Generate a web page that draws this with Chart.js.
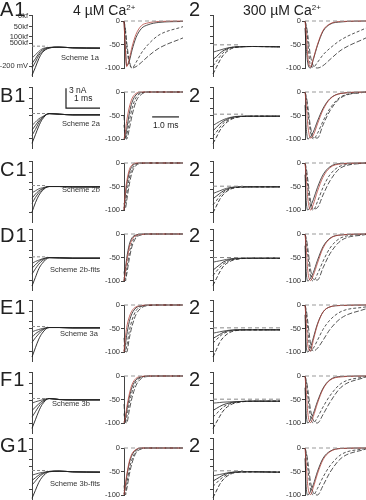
<!DOCTYPE html>
<html>
<head>
<meta charset="utf-8">
<script src="https://cdn.jsdelivr.net/npm/chart.js@4.4.1/dist/chart.umd.min.js"></script>
<style>
  body { margin: 0; background: #fff; }
  #fig { position: relative; width: 366px; height: 500px; overflow: hidden; font-family: "Liberation Sans", Arial, sans-serif; color: #222; }
  #fig canvas { position: absolute; }
  .txt { position: absolute; white-space: nowrap; line-height: 1; }
  .sup { font-size: 8px; position: relative; top: -5px; }
</style>
</head>
<body>
<div id="fig"></div>
<script>
// ---- data ----
const rowLetters = ["A", "B", "C", "D", "E", "F", "G"];
const schemes = ["Scheme 1a", "Scheme 2a", "Scheme 2b", "Scheme 2b-fits", "Scheme 3a", "Scheme 3b", "Scheme 3b-fits"];

// time (ms) of the current panels and of the normalized panels
const stepTime = [0, 0.1, 0.2, 0.3, 0.5, 0.8, 1.2, 2.0];
const normTime = [0, 0.05, 0.1, 0.2, 0.3, 0.45, 0.65, 0.9, 1.3, 2.2];

const normTicks = [0, -50, -100];
const stepTicks = [-0.15, -1.8, -3.3, -4.25, -7.7];
const stepTickLabels = ["0kf", "50kf", "100kf", "500kf", "-200 mV"];

// scale bars: 3 nA / 1 ms and 1.0 ms
const barTime = [1.0, 1.0, 2.0];
const barCurrent = [-0.2, -3.2, -3.2];
const normBarTime = [1.05, 2.05];
const normBarLevel = [-53, -53];

const zeroTime = [0, 2.2];
const zeroLevel = [0, 0];

// dashed reference level in the current panels (nA) and how far it runs (ms)
const ref1Level = [-4.7, -4.0, -3.7, -4.2, -4.0, -4.0, -4.9];
const ref1End = [0.45, 0.45, 0.4, 0.45, 0.45, 0.45, 0.45];
const ref2Level = [-4.5, -4.1, -3.8, -4.3, -4.2, -4.1, -4.95];
const ref2End = [0.8, 0.9, 0.9, 2.0, 2.0, 2.0, 0.9];

// currents (nA), 4 µM Ca2+
const a1Current = [
  [-9.1, -7.9, -6.6, -5.7, -5.0, -4.85, -4.95, -5.0],
  [-8.0, -7.1, -6.1, -5.5, -4.95, -4.85, -4.95, -5.0],
  [-7.3, -6.6, -5.8, -5.3, -4.9, -4.85, -4.95, -5.0],
  [-6.5, -6.0, -5.5, -5.1, -4.9, -4.85, -4.95, -5.0]
];
const b1Current = [
  [-8.5, -7.2, -5.9, -4.9, -4.0, -4.1, -4.2, -4.2],
  [-7.3, -6.4, -5.4, -4.7, -4.0, -4.1, -4.2, -4.2],
  [-6.5, -5.8, -5.1, -4.6, -4.0, -4.1, -4.2, -4.2],
  [-5.8, -5.3, -4.8, -4.5, -4.05, -4.1, -4.2, -4.2]
];
const c1Current = [
  [-7.7, -6.3, -5.2, -4.5, -3.85, -3.85, -3.9, -3.9],
  [-6.4, -5.5, -4.8, -4.3, -3.85, -3.85, -3.9, -3.9],
  [-5.6, -5.0, -4.5, -4.2, -3.85, -3.85, -3.9, -3.9],
  [-4.8, -4.5, -4.2, -4.05, -3.85, -3.85, -3.9, -3.9]
];
const d1Current = [
  [-8.6, -7.3, -6.0, -5.2, -4.35, -4.35, -4.4, -4.4],
  [-6.8, -6.0, -5.3, -4.8, -4.3, -4.35, -4.4, -4.4],
  [-5.9, -5.4, -4.9, -4.6, -4.3, -4.35, -4.4, -4.4],
  [-5.2, -4.9, -4.7, -4.5, -4.3, -4.35, -4.4, -4.4]
];
const e1Current = [
  [-8.6, -7.2, -5.9, -5.0, -4.15, -4.15, -4.2, -4.2],
  [-6.4, -5.7, -5.1, -4.6, -4.15, -4.15, -4.2, -4.2],
  [-5.6, -5.1, -4.75, -4.45, -4.15, -4.15, -4.2, -4.2],
  [-4.8, -4.6, -4.45, -4.3, -4.15, -4.15, -4.2, -4.2]
];
const f1Current = [
  [-8.5, -7.2, -5.9, -4.9, -4.0, -4.15, -4.2, -4.2],
  [-6.8, -6.0, -5.2, -4.6, -4.0, -4.15, -4.2, -4.2],
  [-5.8, -5.3, -4.8, -4.4, -4.0, -4.15, -4.2, -4.2],
  [-4.7, -4.5, -4.35, -4.2, -4.0, -4.15, -4.2, -4.2]
];
const g1Current = [
  [-9.1, -7.9, -6.7, -5.9, -5.1, -5.0, -5.1, -5.15],
  [-7.1, -6.5, -5.9, -5.5, -5.05, -5.0, -5.1, -5.15],
  [-6.4, -6.0, -5.6, -5.35, -5.05, -5.0, -5.1, -5.15],
  [-5.6, -5.45, -5.3, -5.2, -5.05, -5.0, -5.1, -5.15]
];

// currents (nA), 300 µM Ca2+
const a2Current = [
  [-8.9, -7.9, -6.9, -6.1, -5.2, -4.8, -4.75, -4.8],
  [-7.7, -7.0, -6.3, -5.7, -5.0, -4.8, -4.75, -4.8],
  [-6.7, -6.3, -5.8, -5.4, -4.95, -4.8, -4.75, -4.8],
  [-5.6, -5.45, -5.3, -5.15, -4.9, -4.8, -4.75, -4.8]
];
const b2Current = [
  [-8.5, -7.6, -6.6, -5.9, -5.0, -4.5, -4.4, -4.4],
  [-7.4, -6.8, -6.1, -5.5, -4.85, -4.45, -4.4, -4.4],
  [-6.6, -6.1, -5.6, -5.2, -4.7, -4.45, -4.4, -4.4],
  [-5.8, -5.5, -5.2, -4.95, -4.6, -4.4, -4.4, -4.4]
];
const c2Current = [
  [-7.8, -6.8, -5.8, -5.1, -4.3, -3.95, -3.9, -3.9],
  [-6.6, -6.0, -5.3, -4.8, -4.2, -3.95, -3.9, -3.9],
  [-5.7, -5.3, -4.9, -4.55, -4.1, -3.9, -3.9, -3.9],
  [-4.9, -4.7, -4.5, -4.3, -4.0, -3.9, -3.9, -3.9]
];
const d2Current = [
  [-8.5, -7.5, -6.5, -5.7, -4.9, -4.5, -4.4, -4.4],
  [-7.0, -6.4, -5.8, -5.3, -4.75, -4.45, -4.4, -4.4],
  [-6.2, -5.8, -5.4, -5.0, -4.6, -4.45, -4.4, -4.4],
  [-5.0, -4.9, -4.8, -4.7, -4.5, -4.4, -4.4, -4.4]
];
const e2Current = [
  [-8.6, -7.5, -6.4, -5.7, -4.9, -4.55, -4.5, -4.5],
  [-6.5, -6.0, -5.5, -5.1, -4.7, -4.5, -4.5, -4.5],
  [-5.8, -5.5, -5.2, -4.9, -4.6, -4.5, -4.5, -4.5],
  [-5.0, -4.9, -4.8, -4.7, -4.55, -4.5, -4.5, -4.5]
];
const f2Current = [
  [-8.5, -7.6, -6.7, -5.9, -5.0, -4.55, -4.4, -4.4],
  [-6.8, -6.3, -5.8, -5.3, -4.8, -4.5, -4.4, -4.4],
  [-5.8, -5.5, -5.2, -4.95, -4.65, -4.45, -4.4, -4.4],
  [-4.7, -4.65, -4.6, -4.55, -4.5, -4.45, -4.4, -4.4]
];
const g2Current = [
  [-9.0, -8.0, -7.0, -6.3, -5.5, -5.15, -5.1, -5.15],
  [-7.3, -6.8, -6.3, -5.9, -5.35, -5.1, -5.1, -5.15],
  [-6.5, -6.2, -5.9, -5.6, -5.25, -5.1, -5.1, -5.15],
  [-5.7, -5.6, -5.5, -5.4, -5.2, -5.1, -5.1, -5.15]
];

// normalized currents (%): red, black, short dash, long dash — 4 µM Ca2+
const a1Norm = [
  [0, -60, -97, -80, -55, -28, -10, -4, -1, 0],
  [0, -55, -95, -85, -62, -35, -16, -8, -3, -1],
  [0, -20, -55, -90, -100, -88, -68, -50, -30, -12],
  [0, -15, -45, -85, -100, -97, -88, -75, -58, -36]
];
const b1Norm = [
  [-100, -85, -62, -32, -14, -3, 0, 0, 0, 0],
  [-95, -95, -80, -45, -22, -6, -1, 0, 0, 0],
  [-70, -100, -92, -62, -35, -12, -2, 0, 0, 0],
  [-50, -92, -100, -78, -50, -20, -5, 0, 0, 0]
];
const c1Norm = [
  [-100, -62, -40, -14, -4, 0, 0, 0, 0, 0],
  [-100, -70, -48, -20, -7, -1, 0, 0, 0, 0],
  [-95, -88, -66, -32, -13, -3, 0, 0, 0, 0],
  [-85, -97, -80, -45, -20, -5, -1, 0, 0, 0]
];
const d1Norm = [
  [-100, -80, -60, -28, -12, -3, -1, 0, 0, 0],
  [-100, -75, -52, -22, -8, -2, 0, 0, 0, 0],
  [-92, -95, -75, -40, -18, -5, -1, 0, 0, 0],
  [-80, -100, -86, -52, -26, -8, -2, 0, 0, 0]
];
const e1Norm = [
  [-100, -70, -48, -25, -12, -4, -1, 0, 0, 0],
  [-98, -85, -65, -35, -18, -6, -2, 0, 0, 0],
  [-85, -100, -88, -55, -32, -12, -3, -1, 0, 0],
  [-70, -98, -100, -70, -45, -20, -6, -1, 0, 0]
];
const f1Norm = [
  [-100, -88, -68, -38, -18, -5, -1, 0, 0, 0],
  [-98, -92, -75, -45, -24, -8, -2, 0, 0, 0],
  [-80, -100, -88, -58, -34, -12, -3, 0, 0, 0],
  [-60, -95, -100, -72, -46, -20, -5, -1, 0, 0]
];
const g1Norm = [
  [-100, -78, -58, -28, -12, -3, 0, 0, 0, 0],
  [-98, -82, -62, -32, -15, -4, 0, 0, 0, 0],
  [-90, -95, -78, -45, -24, -7, -1, 0, 0, 0],
  [-80, -100, -88, -56, -32, -10, -2, 0, 0, 0]
];

// normalized currents (%) — 300 µM Ca2+
const a2Norm = [
  [0, -30, -75, -98, -80, -50, -20, -6, -1, 0],
  [-15, -60, -90, -100, -82, -52, -22, -7, -2, 0],
  [0, -15, -45, -95, -98, -88, -72, -58, -40, -15],
  [0, -10, -30, -75, -95, -100, -95, -82, -62, -36]
];
const b2Norm = [
  [0, -30, -70, -98, -92, -68, -38, -15, -3, 0],
  [-28, -80, -100, -95, -85, -62, -35, -14, -3, 0],
  [0, -15, -40, -85, -100, -88, -62, -35, -10, 0],
  [0, -10, -30, -75, -97, -98, -70, -40, -12, 0]
];
const c2Norm = [
  [0, -35, -75, -100, -88, -60, -30, -10, -2, 0],
  [-25, -85, -100, -92, -78, -52, -25, -8, -1, 0],
  [0, -20, -50, -92, -100, -82, -52, -25, -6, 0],
  [0, -12, -35, -80, -98, -95, -68, -38, -10, 0]
];
const d2Norm = [
  [0, -35, -78, -99, -88, -62, -30, -10, -2, 0],
  [-25, -85, -100, -94, -82, -56, -27, -9, -2, 0],
  [0, -18, -45, -90, -100, -85, -58, -30, -8, 0],
  [0, -10, -30, -75, -96, -98, -72, -42, -14, -1]
];
const e2Norm = [
  [0, -40, -85, -98, -75, -42, -15, -4, -1, 0],
  [-21, -90, -100, -90, -70, -40, -15, -4, -1, 0],
  [0, -20, -55, -98, -92, -75, -52, -32, -14, -4],
  [0, -12, -35, -82, -98, -92, -75, -52, -28, -8]
];
const f2Norm = [
  [0, -35, -78, -99, -86, -58, -28, -9, -2, 0],
  [-25, -85, -100, -93, -80, -54, -26, -8, -1, 0],
  [0, -15, -42, -88, -100, -88, -66, -42, -16, -1],
  [0, -10, -28, -72, -94, -100, -82, -56, -24, -2]
];
const g2Norm = [
  [0, -38, -80, -99, -84, -55, -25, -8, -1, 0],
  [-22, -88, -100, -92, -78, -50, -22, -7, -1, 0],
  [0, -15, -42, -88, -100, -86, -62, -38, -14, -1],
  [0, -10, -28, -72, -95, -100, -80, -52, -22, -2]
];

const lowCurrents = [a1Current, b1Current, c1Current, d1Current, e1Current, f1Current, g1Current];
const highCurrents = [a2Current, b2Current, c2Current, d2Current, e2Current, f2Current, g2Current];
const lowNorms = [a1Norm, b1Norm, c1Norm, d1Norm, e1Norm, f1Norm, g1Norm];
const highNorms = [a2Norm, b2Norm, c2Norm, d2Norm, e2Norm, f2Norm, g2Norm];

// ---- layout ----
const rowZero = [21, 92, 163, 234, 305, 376, 448];
const rowTop = [15, 87, 161, 229, 300, 372, 438];
const labelTop = [2, 88, 162, 228, 300, 372, 438];
const schemeAt = [[61, 58], [62, 124], [62, 190], [50, 270], [60, 334], [52, 404], [50, 484]];

const RED = "#b4453e";
const INK = "#1e1e1e";
const normStyles = [
  { color: RED, width: 0.8 },
  { color: INK, width: 0.8 },
  { color: "#2a2a2a", dash: [3, 2], width: 0.8 },
  { color: "#2a2a2a", dash: [5, 2], width: 0.8 }
];
const lowStyles = [{ color: INK, width: 0.9 }, { color: "#333", width: 0.9 }, { color: "#2a2a2a", width: 0.9 }, { color: "#444", width: 0.9 }];
const highStyles = [
  { color: INK, dash: [4, 2], width: 0.9 },
  { color: "#333", dash: [3, 2], width: 0.9 },
  { color: "#2a2a2a", width: 0.9 },
  { color: "#444", width: 0.9 }
];

const fig = document.getElementById("fig");

function addText(html, x, y, size, extra) {
  const d = document.createElement("div");
  d.className = "txt";
  d.innerHTML = html;
  d.style.left = x + "px";
  d.style.top = y + "px";
  d.style.fontSize = size + "px";
  if (extra) Object.assign(d.style, extra);
  fig.appendChild(d);
}

function addCanvas(x, y, w, h) {
  const c = document.createElement("canvas");
  c.width = w;
  c.height = h;
  c.style.left = x + "px";
  c.style.top = y + "px";
  c.style.width = w + "px";
  c.style.height = h + "px";
  fig.appendChild(c);
  return c;
}

function series(times, values, style) {
  return {
    data: times.map((t, i) => ({ x: t, y: values[i] })),
    borderColor: style.color,
    borderDash: style.dash || [],
    borderWidth: style.width || 1,
    pointRadius: 0,
    tension: style.straight ? 0 : 0.4,
    cubicInterpolationMode: style.straight ? "default" : "monotone",
    clip: false
  };
}

function yAxis(min, max, ticks, labelFn, width) {
  return {
    min: min,
    max: max,
    afterBuildTicks: s => { s.ticks = ticks.map(v => ({ value: v })); },
    afterFit: s => { s.width = width; s.paddingTop = 0; s.paddingBottom = 0; },
    ticks: {
      autoSkip: false,
      padding: 1,
      color: "#333",
      font: { family: "Liberation Sans", size: 7.5 },
      callback: labelFn
    },
    grid: { display: true, drawOnChartArea: false, drawTicks: true, tickLength: 3, color: "#444", lineWidth: 1 },
    border: { display: true, color: "#444", width: 1 }
  };
}

function plot(canvas, datasets, xMax, y, pad) {
  return new Chart(canvas, {
    type: "line",
    data: { datasets: datasets },
    options: {
      responsive: false,
      animation: false,
      devicePixelRatio: 1,
      events: [],
      layout: { padding: pad },
      plugins: { legend: { display: false }, tooltip: { enabled: false } },
      scales: {
        x: { type: "linear", min: 0, max: xMax, display: false },
        y: y
      }
    }
  });
}

const STEP_MIN = -9.2;   // nA at bottom of current panels
const STEP_H = 61;       // px
const NORM_H = 47;       // px from 0 to -100

for (let r = 0; r < 7; r++) {
  // current panel, 4 µM
  let ds = [series([0, ref1End[r]], [ref1Level[r], ref1Level[r]], { color: "#888", dash: [3, 2], straight: true })];
  lowCurrents[r].forEach((v, i) => ds.push(series(stepTime, v, lowStyles[i])));
  if (r === 1) ds.push(series(barTime, barCurrent, { color: INK, width: 1.2, straight: true }));
  plot(addCanvas(0, rowTop[r] - 5, 101, STEP_H + 8), ds, 2.0,
    yAxis(STEP_MIN, 0, stepTicks, (v, i) => (r === 0 ? stepTickLabels[i] : ""), 32),
    { top: 5, bottom: 3, left: 0, right: 1 });

  // normalized panel, 4 µM
  ds = [series(zeroTime, zeroLevel, { color: "#999", dash: [4, 3], straight: true })];
  lowNorms[r].forEach((v, i) => ds.push(series(normTime, v, normStyles[i])));
  if (r === 1) ds.push(series(normBarTime, normBarLevel, { color: INK, width: 1.2, straight: true }));
  plot(addCanvas(100, rowZero[r] - 6, 83, NORM_H + 12), ds, 2.2,
    yAxis(-100, 0, normTicks, v => String(v), 24),
    { top: 6, bottom: 6, left: 0, right: 0 });

  // current panel, 300 µM
  ds = [series([0, ref2End[r]], [ref2Level[r], ref2Level[r]], { color: "#888", dash: [4, 3], straight: true })];
  highCurrents[r].forEach((v, i) => ds.push(series(stepTime, v, highStyles[i])));
  plot(addCanvas(208, rowTop[r] - 5, 73, STEP_H + 8), ds, 2.0,
    yAxis(STEP_MIN, 0, stepTicks, () => "", 5),
    { top: 5, bottom: 3, left: 0, right: 1 });

  // normalized panel, 300 µM
  ds = [series(zeroTime, zeroLevel, { color: "#999", dash: [4, 3], straight: true })];
  highNorms[r].forEach((v, i) => ds.push(series(normTime, v, normStyles[i])));
  plot(addCanvas(281, rowZero[r] - 6, 85, NORM_H + 12), ds, 2.2,
    yAxis(-100, 0, normTicks, v => String(v), 24),
    { top: 6, bottom: 6, left: 0, right: 0 });

  // labels
  addText(rowLetters[r] + "1", 0, labelTop[r] - 2.6, 20, { letterSpacing: "1px" });
  addText("2", 189, labelTop[r] - 2.6, 20);
  addText(schemes[r], schemeAt[r][0], schemeAt[r][1] - 4, 7.5, { color: "#333" });
}

addText('4 \u00b5M Ca<span class="sup">2+</span>', 73, 3, 14);
addText('300 \u00b5M Ca<span class="sup">2+</span>', 243, 3, 14);
addText("3 nA", 69, 86, 8.5);
addText("1 ms", 74, 94, 8.5);
addText("1.0 ms", 153, 121, 8.5);
</script>
</body>
</html>
